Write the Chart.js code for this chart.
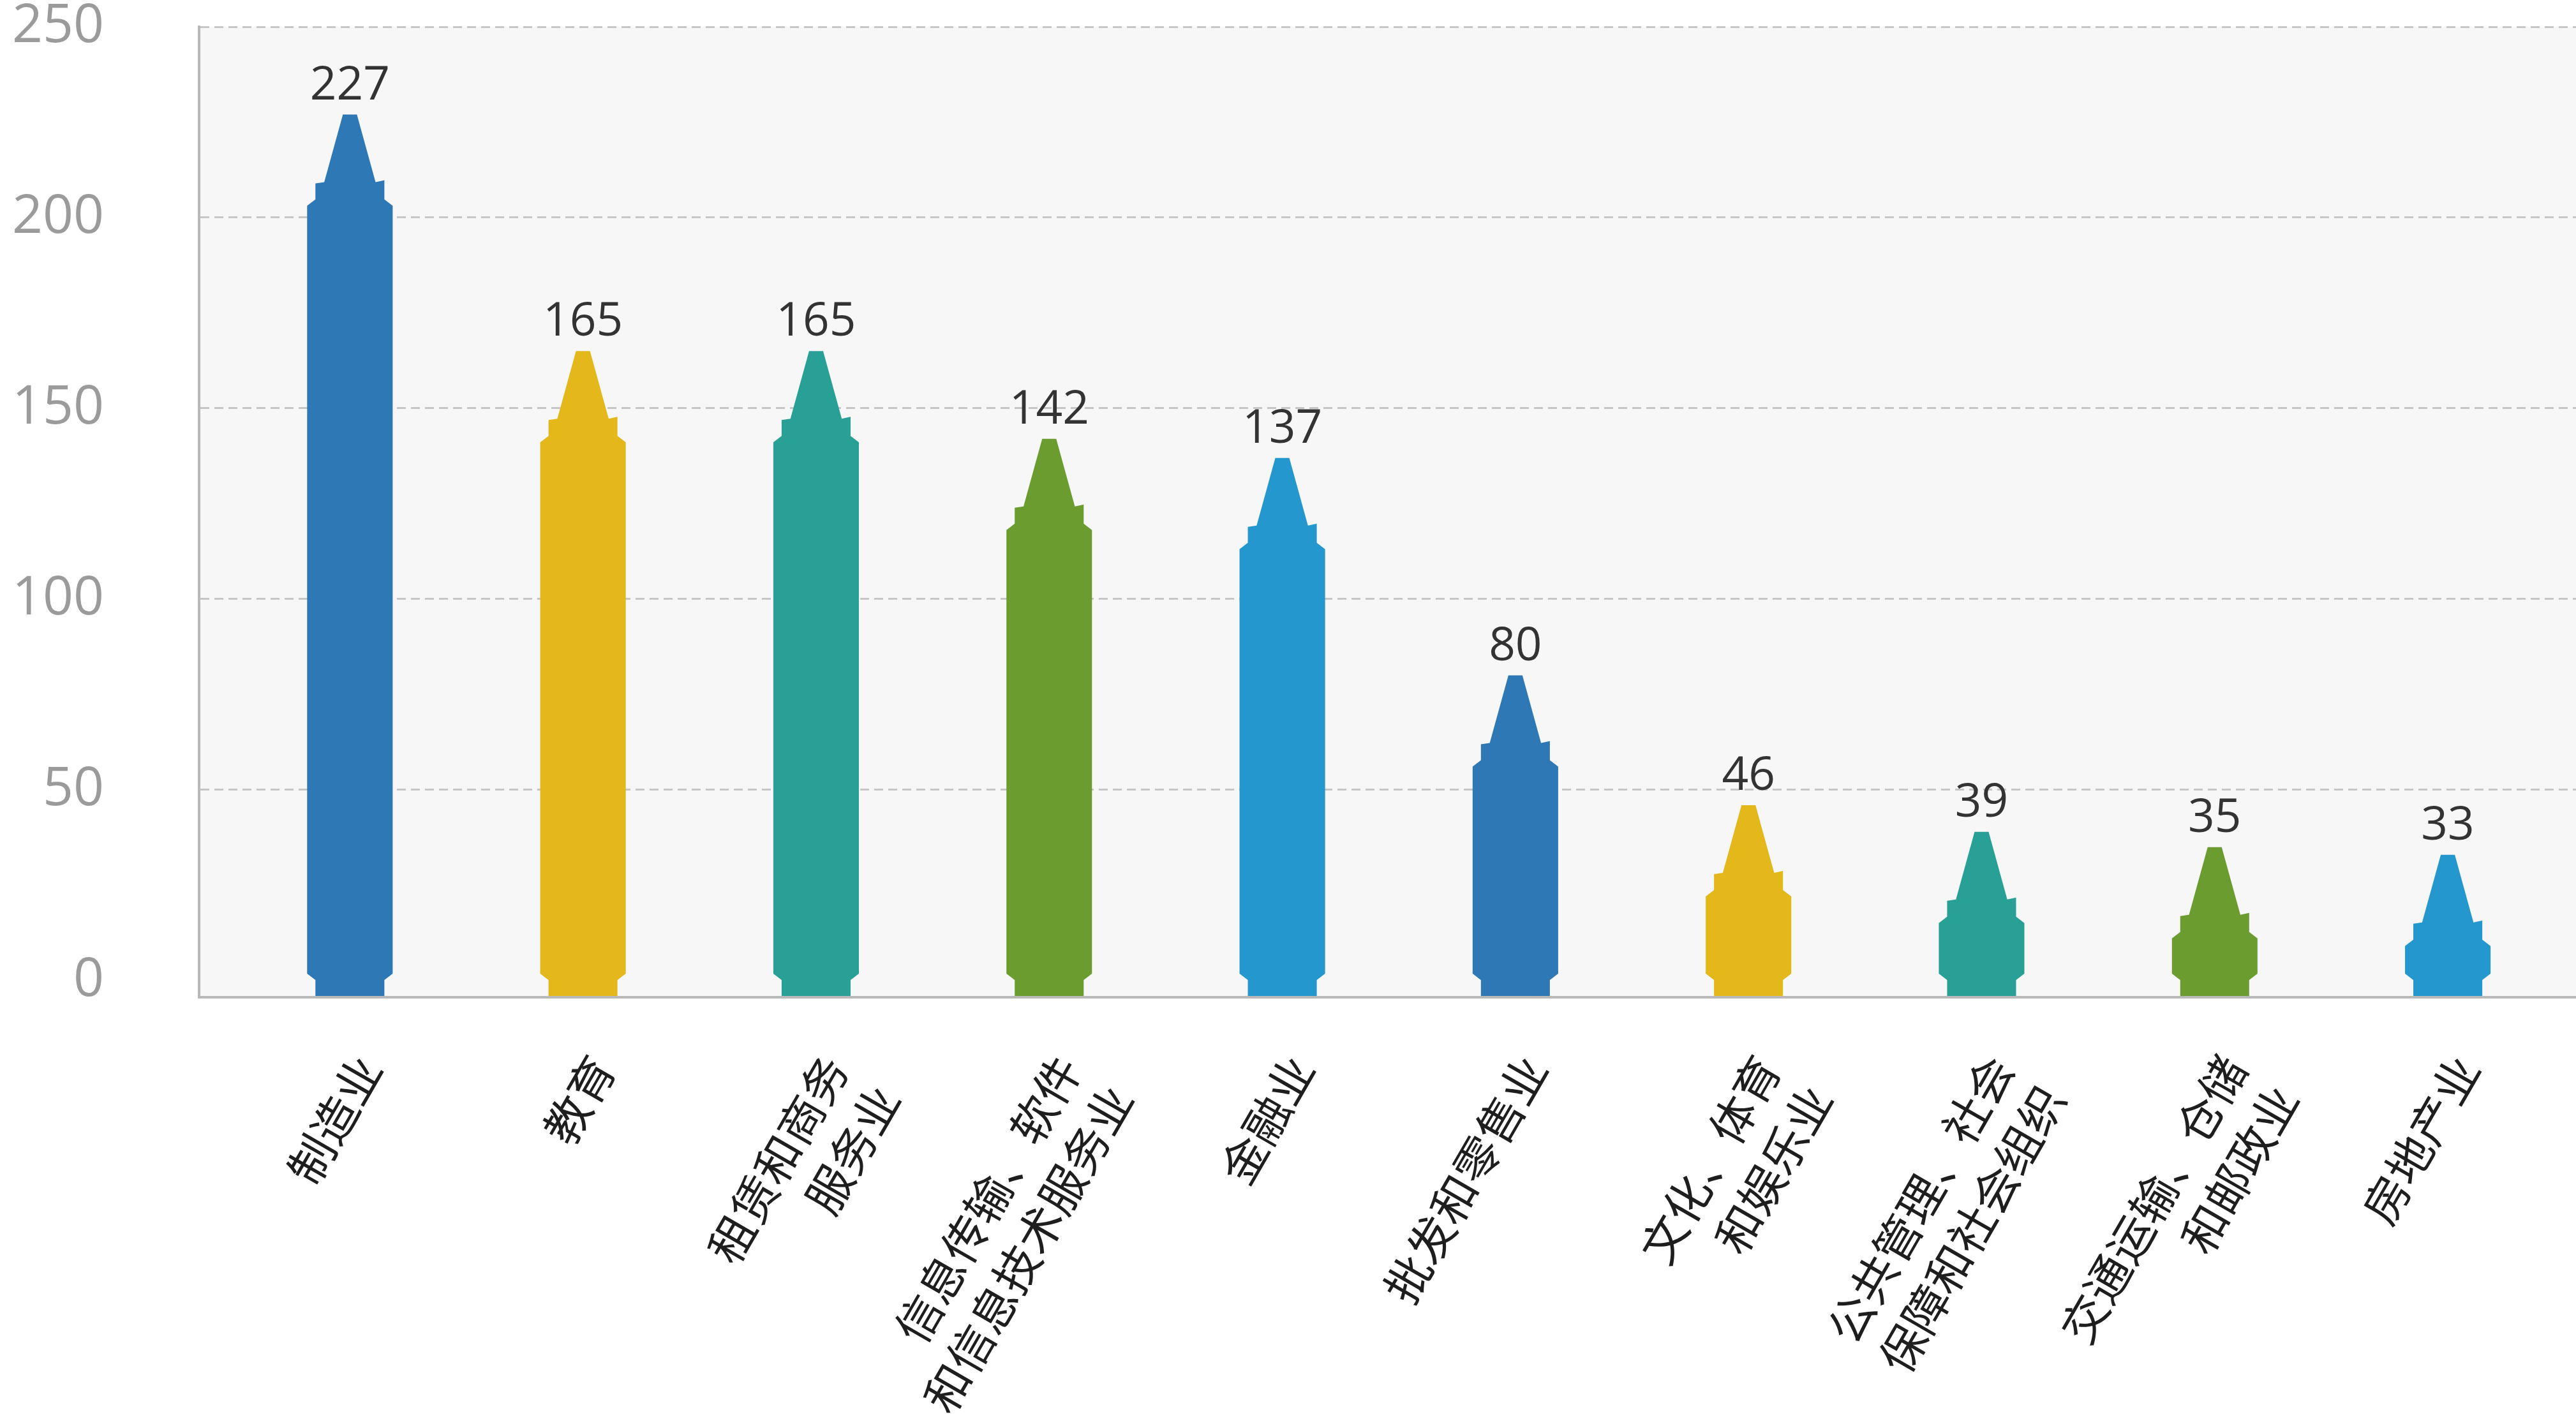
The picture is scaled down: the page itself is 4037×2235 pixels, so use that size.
<!DOCTYPE html>
<html>
<head>
<meta charset="utf-8">
<script src="https://cdn.jsdelivr.net/npm/chart.js@4.4.0/dist/chart.umd.min.js"></script>
<style>
  html, body { margin: 0; padding: 0; background: #fff; }
  #wrap { width: 4037px; height: 2235px; }
</style>
</head>
<body>
<div id="wrap"><canvas id="myChart"></canvas></div>
<script>
const categories = ['制造业', '教育', '租赁和商务服务业', '信息传输、软件和信息技术服务业', '金融业',
  '批发和零售业', '文化、体育和娱乐业', '公共管理、社会保障和社会组织', '交通运输、仓储和邮政业', '房地产业']
const tickLabels = [
  ['制造业'], ['教育'], ['租赁和商务', '服务业'], ['信息传输、软件', '和信息技术服务业'], ['金融业'],
  ['批发和零售业'], ['文化、体育', '和娱乐业'], ['公共管理、社会', '保障和社会组织'], ['交通运输、仓储', '和邮政业'], ['房地产业']
]
const values = [227, 165, 165, 142, 137, 80, 46, 39, 35, 33]
const barColors = ['#2e79b5', '#e4b81a', '#28a095', '#6a9c30', '#2497cf',
  '#2e79b5', '#e4b81a', '#28a095', '#6a9c30', '#2497cf']
const yTicks = [0, 50, 100, 150, 200, 250]

// plot background + crayon shaped bars + value labels
const crayons = {
  id: 'crayons',
  beforeDraw(chart) {
    const a = chart.chartArea
    const ctx = chart.ctx
    ctx.save()
    ctx.fillStyle = '#f7f7f7'
    ctx.fillRect(a.left, a.top, a.right - a.left, a.bottom - a.top)
    ctx.restore()
  },
  afterDatasetsDraw(chart) {
    const ctx = chart.ctx
    const meta = chart.getDatasetMeta(0)
    const B = chart.chartArea.bottom - 2
    ctx.save()
    meta.data.forEach((el, i) => {
      const c = el.x, T = el.y, h = el.width / 2
      const tip = h * 0.164, cone = h * 0.6, collar = h * 0.806
      ctx.fillStyle = barColors[i]
      ctx.beginPath()
      ctx.moveTo(c - tip, T)
      ctx.lineTo(c - cone, T + 106)
      ctx.lineTo(c - collar, T + 108)
      ctx.lineTo(c - collar, T + 133)
      ctx.lineTo(c - h, T + 143)
      ctx.lineTo(c - h, B - 35)
      ctx.lineTo(c - collar, B - 25)
      ctx.lineTo(c - collar, B)
      ctx.lineTo(c + collar, B)
      ctx.lineTo(c + collar, B - 25)
      ctx.lineTo(c + h, B - 35)
      ctx.lineTo(c + h, T + 143)
      ctx.lineTo(c + collar, T + 133)
      ctx.lineTo(c + collar, T + 103)
      ctx.lineTo(c + cone, T + 106)
      ctx.lineTo(c + tip, T)
      ctx.closePath()
      ctx.fill()

      ctx.fillStyle = '#333'
      ctx.font = '73px "Open Sans", "Noto Sans CJK SC", sans-serif'
      ctx.textAlign = 'center'
      ctx.textBaseline = 'alphabetic'
      ctx.fillText(values[i], c, T - 24)
    })
    ctx.restore()
  }
}

const ctx = document.getElementById('myChart').getContext('2d')
const chart = new Chart(ctx, {
  type: 'bar',
  data: {
    labels: categories,
    datasets: [{
      label: '人数',
      data: values.map((v, i) => ({ x: i, y: v })),
      backgroundColor: 'rgba(0,0,0,0)',
      categoryPercentage: 1,
      barPercentage: 0.367
    }]
  },
  options: {
    responsive: true,
    maintainAspectRatio: false,
    animation: false,
    layout: { padding: { top: 42, left: 0, right: 0, bottom: 0 } },
    plugins: {
      legend: { display: false },
      tooltip: { enabled: false }
    },
    scales: {
      x: {
        type: 'linear',
        offset: false,
        min: -0.647,
        max: 9.55,
        afterBuildTicks: s => { s.ticks = categories.map((_, i) => ({ value: i })) },
        afterFit: s => { s.height = 672; s.paddingLeft = 0; s.paddingRight = 0 },
        grid: { display: false, drawTicks: false },
        border: { display: true, color: '#b9b9b9', width: 4 },
        ticks: {
          autoSkip: false,
          minRotation: 60,
          maxRotation: 60,
          padding: 75,
          labelOffset: 30,
          color: '#1e1e1e',
          font: { family: '"Noto Sans CJK SC", sans-serif', size: 72, lineHeight: 1.3 },
          callback: (v, i) => tickLabels[i]
        }
      },
      y: {
        min: -4.35,
        max: 250,
        afterBuildTicks: s => { s.ticks = yTicks.map(v => ({ value: v })) },
        afterFit: s => { s.width = 312; s.paddingTop = 0; s.paddingBottom = 0 },
        grid: {
          drawTicks: false,
          lineWidth: 3,
          color: c => c.tick && c.tick.value === 0 ? 'rgba(0,0,0,0)' : '#c6c6c6'
        },
        border: { display: true, color: '#b9b9b9', width: 4, dash: [14, 8] },
        ticks: {
          padding: 149,
          color: '#9b9b9b',
          font: { family: '"Open Sans", sans-serif', size: 84 }
        }
      }
    }
  },
  plugins: [crayons]
})
</script>
</body>
</html>
